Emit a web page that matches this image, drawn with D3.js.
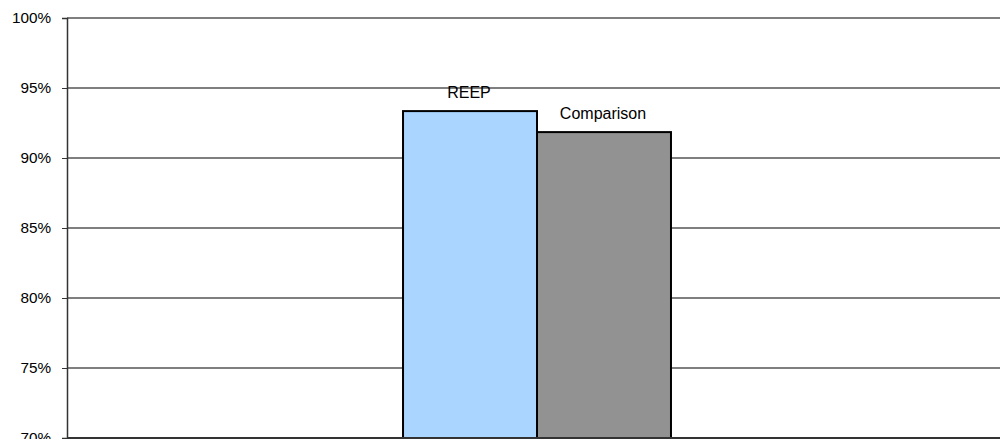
<!DOCTYPE html>
<html>
<head>
<meta charset="utf-8">
<script src="https://cdn.jsdelivr.net/npm/d3@7"></script>
<style>
  html, body { margin: 0; padding: 0; background: #fff; overflow: hidden; }
  svg { display: block; font-family: "Liberation Sans", Arial, sans-serif; }
</style>
</head>
<body>
<svg id="chart" width="1000" height="439"></svg>
<script>
// Single category, two series
const categories = ["All"];
const seriesNames = ["REEP", "Comparison"];
const seriesValues = [93.35, 91.85];
const seriesColors = ["#A9D5FF", "#929292"];
const yTicks = [70, 75, 80, 85, 90, 95, 100];

const svg = d3.select("#chart");
const plotLeft = 67, plotTop = 18, plotBottom = 438, plotRight = 1007;

const y = d3.scaleLinear().domain([70, 100]).range([plotBottom, plotTop]);

const x0 = d3.scaleBand().domain(categories).range([plotLeft, plotRight])
  .paddingInner(0).paddingOuter(1.254);
const x1 = d3.scaleBand().domain(seriesNames).range([0, x0.bandwidth()]).padding(0);

// Horizontal gridlines
svg.append("g")
  .selectAll("line")
  .data(yTicks)
  .join("line")
  .attr("x1", plotLeft).attr("x2", 1000)
  .attr("y1", d => y(d)).attr("y2", d => y(d))
  .attr("stroke", "#7f7f7f").attr("stroke-width", 1.2)
  .attr("shape-rendering", "crispEdges");

// Bars
const data = seriesNames.map((s, i) => ({ cat: categories[0], series: s, value: seriesValues[i], color: seriesColors[i] }));
const g = svg.append("g");
g.selectAll("rect")
  .data(data)
  .join("rect")
  .attr("x", d => x0(d.cat) + x1(d.series))
  .attr("y", d => y(d.value))
  .attr("width", x1.bandwidth())
  .attr("height", d => y(70) - y(d.value))
  .attr("fill", d => d.color)
  .attr("stroke", "#000").attr("stroke-width", 2);

// Series labels above bars
g.selectAll("text")
  .data(data)
  .join("text")
  .attr("x", d => x0(d.cat) + x1(d.series) + x1.bandwidth() / 2 - 1)
  .attr("y", d => y(d.value) - 13)
  .attr("text-anchor", "middle")
  .attr("font-size", 16)
  .attr("fill", "#000")
  .text(d => d.series);

// Y axis
const yAxis = d3.axisLeft(y).tickValues(yTicks).tickFormat(d => d + "%").tickSize(5).tickPadding(11);
const ay = svg.append("g").attr("transform", `translate(${plotLeft},0)`).call(yAxis);
ay.select(".domain").attr("stroke", "#333").attr("stroke-width", 1.5);
ay.selectAll(".tick line").attr("stroke", "#333");
ay.selectAll(".tick text").attr("font-size", 15.3).attr("fill", "#000")
  .attr("font-family", "Liberation Sans, Arial, sans-serif");

// Baseline
svg.append("line")
  .attr("x1", plotLeft).attr("x2", 1000)
  .attr("y1", plotBottom).attr("y2", plotBottom)
  .attr("stroke", "#333").attr("stroke-width", 2);
</script>
</body>
</html>
